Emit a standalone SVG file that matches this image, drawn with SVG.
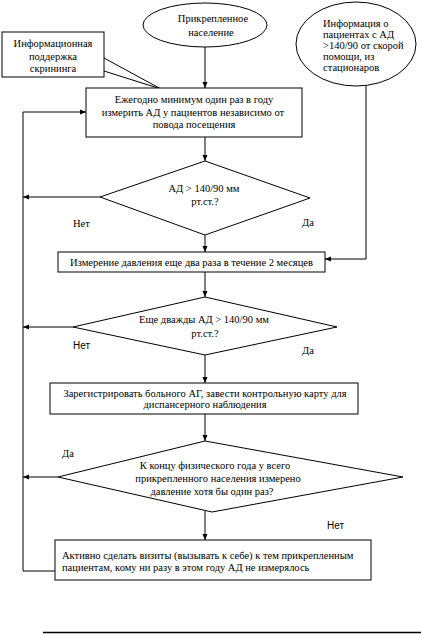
<svg xmlns="http://www.w3.org/2000/svg" width="421" height="634" viewBox="0 0 421 634">
<style>
.s{fill:#fff;stroke:#000;stroke-width:1}
.t{font-size:10.5px;fill:#000}
.c{text-anchor:middle}
.a{font-size:10px;fill:#000}
.l{fill:none;stroke:#000;stroke-width:1}
</style>
<defs>
<marker id="ah" markerWidth="7" markerHeight="6" refX="6" refY="3" orient="auto" markerUnits="userSpaceOnUse">
<path d="M0,0.5 L6,3 L0,5.5 Z" fill="#000"/>
</marker>
</defs>
<rect width="421" height="634" fill="#fff"/>
<g id="connectors">
<line class="l" x1="205" y1="47" x2="205" y2="88" marker-end="url(#ah)"/>
<polyline class="l" points="104,58 161,89 104,71"/>
<line class="l" x1="205" y1="137" x2="205" y2="161" marker-end="url(#ah)"/>
<line class="l" x1="100" y1="197" x2="23" y2="197" marker-end="url(#ah)"/>
<line class="l" x1="205" y1="235" x2="205" y2="252" marker-end="url(#ah)"/>
<polyline class="l" points="366,86 366,259 325,259" marker-end="url(#ah)"/>
<line class="l" x1="205" y1="272" x2="205" y2="297" marker-end="url(#ah)"/>
<line class="l" x1="73" y1="327" x2="23" y2="327" marker-end="url(#ah)"/>
<line class="l" x1="205" y1="355" x2="205" y2="383" marker-end="url(#ah)"/>
<line class="l" x1="205" y1="414" x2="205" y2="441" marker-end="url(#ah)"/>
<line class="l" x1="58" y1="477" x2="23" y2="477" marker-end="url(#ah)"/>
<line class="l" x1="205" y1="511" x2="205" y2="540" marker-end="url(#ah)"/>
<polyline class="l" points="55,571 23,571 23,112 86,112" marker-end="url(#ah)"/>
<g font-family="Liberation Serif, DejaVu Serif, serif">
<text class="t" x="73" y="226.5">Нет</text>
<text class="t" x="302" y="225.5">Да</text>
<text class="t" x="302" y="353.5">Да</text>
<text class="t" x="62" y="456.5">Да</text>
</g>
<g font-family="Liberation Sans, Arial, sans-serif">
<text class="a" x="73" y="349">Нет</text>
<text class="a" x="327" y="529">Нет</text>
</g>
</g>
<g font-family="Liberation Serif, DejaVu Serif, serif">
<g id="n-population">
<ellipse class="s" cx="205" cy="25" rx="62" ry="22"/>
<text class="t c" x="213" y="21.5">Прикрепленное</text>
<text class="t c" x="211" y="35.5">население</text>
</g>
<g id="n-info-ambulance">
<ellipse class="s" cx="356" cy="44" rx="60" ry="42"/>
<text class="t" x="323" y="26.5">Информация  о</text>
<text class="t" x="323" y="37.5">пациентах с АД</text>
<text class="t" x="323" y="48.5">&gt;140/90 от скорой</text>
<text class="t" x="323" y="59.5">помощи, из</text>
<text class="t" x="323" y="70.5">стационаров</text>
</g>
<g id="n-support">
<rect class="s" x="2" y="32" width="102" height="45"/>
<text class="t c" x="53" y="46.5">Информационная</text>
<text class="t c" x="53" y="59.5">поддержка</text>
<text class="t c" x="53" y="71.5">скрининга</text>
</g>
<g id="n-measure-yearly">
<rect class="s" x="86" y="88" width="216" height="49"/>
<text class="t c" x="194" y="102.5">Ежегодно минимум один раз в году</text>
<text class="t c" x="193" y="115.5">измерить АД у пациентов независимо от</text>
<text class="t c" x="194" y="127.5">повода посещения</text>
</g>
<g id="n-decision-1">
<polygon class="s" points="205,161 310,198 205,235 100,197"/>
<text class="t c" x="204" y="191.5">АД &gt; 140/90 мм</text>
<text class="t c" x="205" y="204.5">рт.ст.?</text>
</g>
<g id="n-measure-twice">
<rect class="s" x="58" y="252" width="267" height="20"/>
<text class="t c" x="191.5" y="265.5">Измерение давления еще два раза в течение 2 месяцев</text>
</g>
<g id="n-decision-2">
<polygon class="s" points="205,297 337,327 205,355 73,327"/>
<text class="t c" x="204" y="322.5">Еще дважды АД &gt; 140/90 мм</text>
<text class="t c" x="205" y="336.5">рт.ст.?</text>
</g>
<g id="n-register">
<rect class="s" x="50" y="383" width="308" height="31"/>
<text class="t c" x="205" y="396.5">Зарегистрировать больного АГ, завести контрольную карту для</text>
<text class="t c" x="205" y="407.5">диспансерного наблюдения</text>
</g>
<g id="n-decision-3">
<polygon class="s" points="205,441 403,477 212,512 58,477"/>
<text class="t c" x="215" y="468.5">К концу физического года у всего</text>
<text class="t c" x="218" y="481.5">прикрепленного населения измерено</text>
<text class="t c" x="212" y="494.5">давление хотя бы один раз?</text>
</g>
<g id="n-visits">
<rect class="s" x="55" y="540" width="316" height="40"/>
<text class="t" x="62" y="558.5">Активно сделать визиты (вызывать к себе) к тем прикрепленным</text>
<text class="t" x="62" y="570.5">пациентам, кому ни разу в этом году АД не измерялось</text>
</g>
</g>
<line x1="43" y1="632.5" x2="421" y2="632.5" stroke="#000" stroke-width="1.5"/>
</svg>
